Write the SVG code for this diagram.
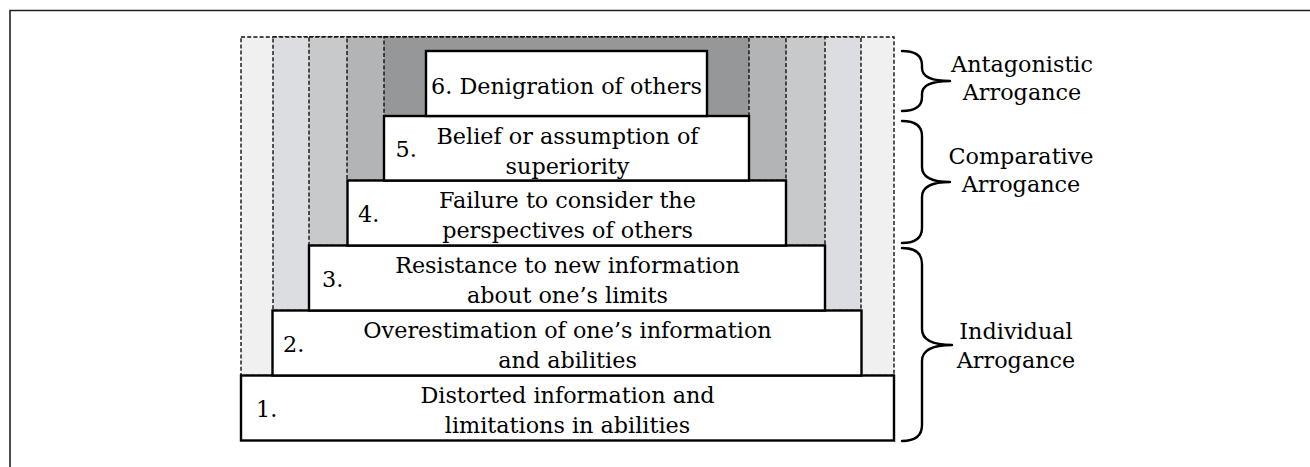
<svg xmlns="http://www.w3.org/2000/svg" width="1310" height="467" viewBox="0 0 1310 467">
  <style>
    text { font-family: "DejaVu Serif", "Liberation Serif", serif; font-size: 22.3px; fill: #000; }
    .mid { text-anchor: middle; }
    .band { stroke: #111; stroke-width: 1.4; stroke-dasharray: 4 2.2; }
    .box { fill: #fff; stroke: #000; stroke-width: 2.4; }
    .brace { fill: none; stroke: #000; stroke-width: 2.4; stroke-linecap: round; stroke-linejoin: round; }
    .frame { fill: none; stroke: #222; stroke-width: 1.6; }
  </style>

  <rect width="1310" height="467" fill="#fff"/>
  <!-- page frame: top and left rules only -->
  <path class="frame" d="M10 467 V10.5 H1310"/>

  <!-- shaded dashed bands behind the steps, outermost first -->
  <g id="bands">
    <rect class="band" x="241" y="37" width="653" height="338.5" fill="#f0f0f0"/>
    <rect class="band" x="273" y="37" width="588" height="273.5" fill="#dcdde0"/>
    <rect class="band" x="309" y="37" width="516" height="208.5" fill="#c8c9cb"/>
    <rect class="band" x="347" y="37" width="439" height="143.5" fill="#b2b4b6"/>
    <rect class="band" x="384" y="37" width="365" height="79" fill="#969798"/>
  </g>

  <g id="step1">
    <rect class="box" x="241" y="375.5" width="653" height="65"/>
    <text x="256" y="416.5">1.</text>
    <text class="mid" x="567.5" y="403">Distorted information and</text>
    <text class="mid" x="567.5" y="433">limitations in abilities</text>
  </g>

  <g id="step2">
    <rect class="box" x="272.5" y="310.5" width="589" height="65"/>
    <text x="283" y="351.5">2.</text>
    <text class="mid" x="567.5" y="338">Overestimation of one’s information</text>
    <text class="mid" x="567.5" y="368">and abilities</text>
  </g>

  <g id="step3">
    <rect class="box" x="309" y="245.5" width="516" height="65"/>
    <text x="322" y="286.5">3.</text>
    <text class="mid" x="567.5" y="273">Resistance to new information</text>
    <text class="mid" x="567.5" y="303">about one’s limits</text>
  </g>

  <g id="step4">
    <rect class="box" x="347.5" y="180.5" width="438.5" height="65"/>
    <text x="358" y="221.5">4.</text>
    <text class="mid" x="567.5" y="208">Failure to consider the</text>
    <text class="mid" x="567.5" y="238">perspectives of others</text>
  </g>

  <g id="step5">
    <rect class="box" x="384" y="116" width="365" height="64.5"/>
    <text x="395.5" y="156.5">5.</text>
    <text class="mid" x="567.5" y="143.5">Belief or assumption of</text>
    <text class="mid" x="567.5" y="173.5">superiority</text>
  </g>

  <g id="step6">
    <rect class="box" x="426" y="51" width="281" height="65"/>
    <text class="mid" x="566.5" y="94">6. Denigration of others</text>
  </g>

  <!-- curly braces grouping the steps -->
  <g id="braces">
    <path class="brace" d="M902 51 Q922 51 922 65 L922 68 Q922 81 950 81 Q922 81 922 94 L922 97 Q922 111 902 111"/>
    <path class="brace" d="M902 121 Q922 121 922 136 L922 167 Q922 182 950 182 Q922 182 922 197 L922 228 Q922 243 902 243"/>
    <path class="brace" d="M902 248 Q922 248 922 264 L922 329 Q922 345 952 345 Q922 345 922 361 L922 425 Q922 441 902 441"/>
  </g>

  <g id="label-antagonistic">
    <text class="mid" x="1022" y="72">Antagonistic</text>
    <text class="mid" x="1022" y="100">Arrogance</text>
  </g>
  <g id="label-comparative">
    <text class="mid" x="1021" y="164">Comparative</text>
    <text class="mid" x="1021" y="192">Arrogance</text>
  </g>
  <g id="label-individual">
    <text class="mid" x="1016" y="339">Individual</text>
    <text class="mid" x="1016" y="368">Arrogance</text>
  </g>
</svg>
